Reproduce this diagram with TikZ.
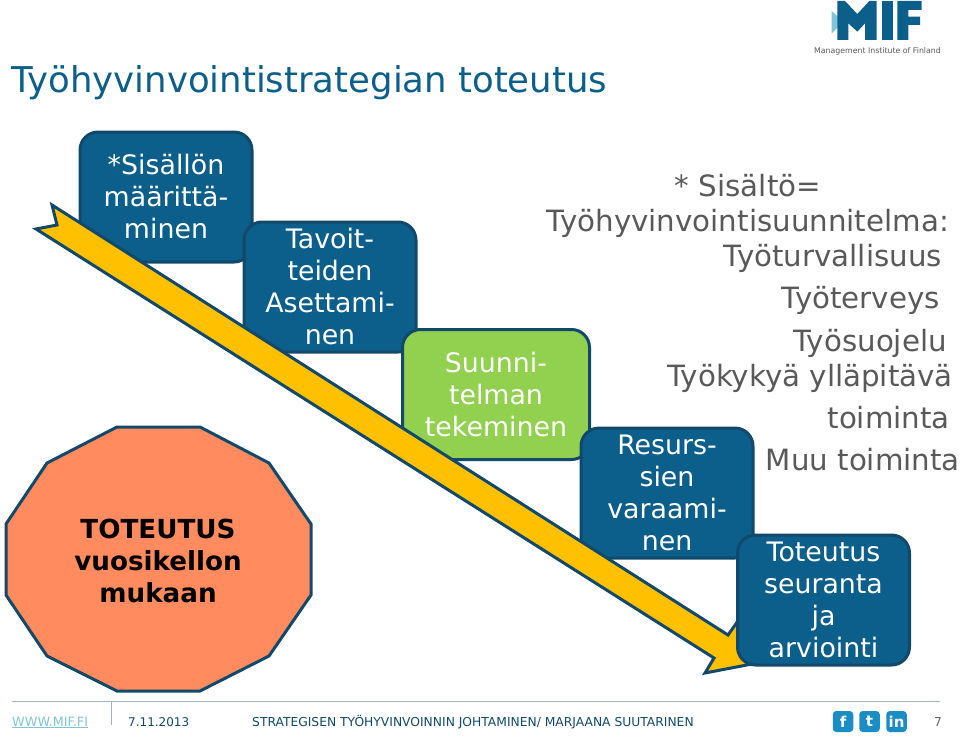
\documentclass[tikz,border=0pt]{standalone}
\usepackage{fontspec}
\setmainfont{DejaVu Sans}
\definecolor{mifblue}{HTML}{0B5F8A}
\definecolor{mifedge}{HTML}{12496A}
\definecolor{mifgreen}{HTML}{92D050}
\definecolor{mifgold}{HTML}{FFC000}
\definecolor{miforange}{HTML}{FF8B5E}
\definecolor{miflight}{HTML}{7FC4D8}
\definecolor{mifrule}{HTML}{A5B5BF}
\definecolor{mifsocial}{HTML}{1B8DC6}
\definecolor{mifgrey}{HTML}{595959}
\newcommand{\boxfont}{\fontsize{26.8}{32}\selectfont}

\begin{document}
\begin{tikzpicture}[x=1pt,y=-1pt,
	stepbox/.style={draw=mifedge,line width=3pt,fill=mifblue,rounded corners=18pt,text=white,
	align=center,font=\boxfont,minimum width=172pt,minimum height=130pt,inner sep=0pt},
	sidetext/.style={anchor=base east,text=mifgrey,font=\fontsize{29.3}{32}\selectfont,inner sep=0pt},
	foottext/.style={anchor=base west,font=\fontsize{12.3}{15}\selectfont,inner sep=0pt},
	socialbox/.style={fill=mifsocial,rounded corners=3.5pt,text=white,minimum width=20.5pt,
	minimum height=21pt,inner sep=0pt,font=\bfseries\fontsize{15}{15}\selectfont}]
\useasboundingbox (0,0) rectangle (960,736);
\node[anchor=base west,text=mifblue,font=\fontsize{35.5}{38}\selectfont,inner sep=0pt] (title) at (11,92) {Työhyvinvointistrategian toteutus};

% logo
\begin{scope}[shift={(780,0)},x=0.3333pt,y=-0.3333pt]
\fill[miflight] (155,33) -- (190,65) -- (155,100) -- cycle;
\fill[mifblue] (172,3) -- (195,3) -- (232,42) -- (268,3) -- (290,3) -- (290,120) -- (255,120) -- (255,70) -- (232,95) -- (205,70) -- (205,120) -- (172,120) -- cycle;
\fill[mifblue] (305,3) rectangle (338,120);
\fill[mifblue] (352,3) -- (425,3) -- (425,30) -- (385,30) -- (385,50) -- (420,50) -- (420,75) -- (385,75) -- (385,120) -- (352,120) -- cycle;
\end{scope}
\node[anchor=base,text=black!65,font=\fontsize{7.8}{10}\selectfont,inner sep=0pt] (logotext) at (877.5,53) {Management Institute of Finland};

\fill[miforange,draw=mifedge,line width=3pt] (117,427) -- (200,427) -- (269,463) -- (311,524) -- (311,595) -- (269,656) -- (200,691) -- (117,691) -- (47,656) -- (6,595) -- (6,524) -- (47,463) -- cycle;
\node[font=\bfseries\fontsize{26.2}{31.6}\selectfont,align=center,text=black] (roundtext) at (158,561) {TOTEUTUS\\vuosikellon\\mukaan};

\node[stepbox] (content) at (166,197) {*Sisällön\\määrittä-\\minen};
\node[stepbox] (goals) at (330,287) {Tavoit-\\teiden\\Asettami-\\nen};
\node[stepbox,fill=mifgreen,minimum width=187pt] (plan) at (496,394.5) {Suunni-\\telman\\tekeminen};
\node[stepbox] (resources) at (667,493) {Resurs-\\sien\\varaami-\\nen};

\draw[fill=mifgold,draw=mifedge,line width=3pt,line join=miter] (52,205) -- (728,635) -- (745,611) -- (752,664) -- (705,673) -- (714,658) -- (36,229) -- (57,225) -- cycle;

\node[stepbox] (follow) at (823.5,600) {Toteutus\\seuranta\\ja\\arviointi};

\node[sidetext,anchor=base] (s1) at (748,196) {* Sisältö=};
\node[sidetext] (s2) at (949,231) {Työhyvinvointisuunnitelma:};
\node[sidetext] (s3) at (942,266) {Työturvallisuus};
\node[sidetext] (s4) at (940,308) {Työterveys};
\node[sidetext] (s5) at (947,351) {Työsuojelu};
\node[sidetext] (s6) at (953,386) {Työkykyä ylläpitävä};
\node[sidetext] (s7) at (950,428) {toiminta};
\node[sidetext] (s8) at (960,470) {Muu toiminta};

\draw[mifrule,line width=0.9pt] (12,701) -- (940,701);
\draw[mifrule,line width=0.9pt] (111,701) -- (111,725);
\node[foottext,text=miflight,font=\fontsize{12.8}{15}\selectfont] (web) at (12,726) {\underline{WWW.MIF.FI}};
\node[foottext,text=mifedge,font=\fontsize{12}{15}\selectfont] (date) at (128,726) {7.11.2013};
\node[foottext,text=mifedge] (footer) at (252,726) {STRATEGISEN TYÖHYVINVOINNIN JOHTAMINEN/ MARJAANA SUUTARINEN};
\node[socialbox] (fb) at (843,721.5) {f};
\node[socialbox] (tw) at (869.5,721.5) {t};
\node[socialbox] (li) at (896.5,721.5) {in};
\node[foottext,text=black!60] (page) at (934,726) {7};
\end{tikzpicture}
\end{document}
